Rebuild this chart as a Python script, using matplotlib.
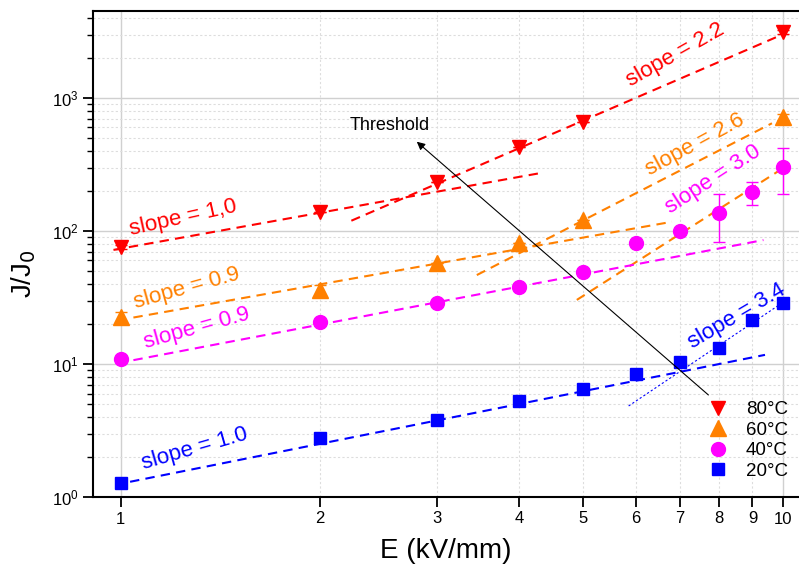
import numpy as np
import matplotlib
matplotlib.use("Agg")
import matplotlib.pyplot as plt
from matplotlib.ticker import FixedLocator, NullFormatter, LogLocator

plt.rcParams['font.family'] = ['Liberation Sans', 'DejaVu Sans']

# measured points
E_hot = [1, 2, 3, 4, 5, 10]
j80 = [76, 140, 235, 430, 664, 3150]
err80 = [3, 0, 0, 0, 0, 120]
j60 = [22.4, 36, 57, 81, 121, 724]
err60 = [2, 3, 0, 0, 0, 40]

E_all = [1, 2, 3, 4, 5, 6, 7, 8, 9, 10]
j40 = [10.9, 20.6, 28.6, 37.7, 49.4, 80.8, 100.6, 136, 195, 304]
err40 = [0, 0, 0, 0, 0, 0, 0, 54, 37, 115]
j20 = [1.28, 2.76, 3.79, 5.30, 6.52, 8.41, 10.4, 13.3, 21.4, 28.6]
err20 = [0.1, 0, 0, 0, 0, 0, 0, 1.2, 0, 0]

series_names = ['80°C', '60°C', '40°C', '20°C']
colors = {'80': '#ff0000', '60': '#ff8000', '40': '#ff00ff', '20': '#0000ff'}

# power-law fits J = amp * E^exp drawn between start and end
fit_color = ['80', '80', '60', '60', '60', '40', '20', '20']
fit_start = [0.975, 2.23, 1.045, 3.45, 4.885, 1.045, 1.033, 5.85]
fit_end = [4.33, 9.96, 6.8, 9.63, 9.96, 9.35, 9.40, 10.0]
fit_amp = [73.7, 21.3, 21.5, 1.958, 0.1955, 10.25, 1.26, 0.01325]
fit_exp = [0.896, 2.15, 0.885, 2.56, 3.18, 0.949, 0.995, 3.34]
fit_thin = [False, False, False, False, False, False, False, True]

# slope annotations
slope_text = ['slope = 1,0', 'slope = 2.2', 'slope = 0.9', 'slope = 2.6',
              'slope = 0.9', 'slope = 3.0', 'slope = 1.0', 'slope = 3.4']
slope_color = ['80', '80', '60', '60', '40', '40', '20', '20']
slope_x = [1.243, 6.88, 1.258, 7.37, 1.303, 7.86, 1.295, 8.53]
slope_y = [124.5, 2105, 37.1, 443, 18.6, 242, 2.32, 22.9]
slope_angle = [12.5, 29.5, 15.5, 28.5, 15.5, 33, 16, 30.5]

fig = plt.figure(figsize=(7.99, 5.71), dpi=100)
ax = fig.add_axes([93 / 799, 1 - 497 / 571, 1 - 93 / 799, (497 - 11) / 571])
ax.set_xscale('log')
ax.set_yscale('log')
ax.set_xlim(0.908, 10.58)
ax.set_ylim(1, 10 ** 3.654)

# grid
ax.xaxis.set_major_locator(FixedLocator([1, 10]))
ax.xaxis.set_minor_locator(FixedLocator([2, 3, 4, 5, 6, 7, 8, 9]))
ax.yaxis.set_major_locator(LogLocator(base=10))
ax.yaxis.set_minor_locator(LogLocator(base=10, subs=np.arange(2, 10)))
ax.grid(which='major', color='#d0d0d0', linestyle='-', linewidth=1.0)
ax.grid(which='minor', color='#dddddd', linestyle=(0, (2, 2)), linewidth=0.8)
ax.set_axisbelow(True)

# x tick labels on all integer positions
ax.set_xticks([1, 10])
ax.set_xticklabels(['1', '10'])
ax.set_xticks([2, 3, 4, 5, 6, 7, 8, 9], minor=True)
ax.set_xticklabels(['2', '3', '4', '5', '6', '7', '8', '9'], minor=True)
ax.yaxis.set_minor_formatter(NullFormatter())

ax.tick_params(which='major', direction='out', length=7, width=1.3, labelsize=12)
ax.tick_params(axis='x', which='minor', direction='out', length=7, width=1.3, labelsize=12)
ax.tick_params(axis='y', which='minor', direction='out', length=4, width=1.0)
for s in ['left', 'bottom', 'top']:
    ax.spines[s].set_linewidth(1.5)
ax.spines['right'].set_visible(False)

# fit lines
for c, x0, x1, a, m, thin in zip(fit_color, fit_start, fit_end, fit_amp, fit_exp, fit_thin):
    xs = np.array([x0, x1])
    if thin:
        ax.plot(xs, a * xs ** m, color=colors[c], lw=0.8, ls=(0, (2, 2)))
    else:
        ax.plot(xs, a * xs ** m, color=colors[c], lw=1.5, ls=(0, (4.5, 3)))

# data
kw = dict(ls='none', capsize=4, elinewidth=1, capthick=1)
h80 = ax.errorbar(E_hot, j80, yerr=err80, fmt='v', ms=10, color=colors['80'], **kw)
h60 = ax.errorbar(E_hot, j60, yerr=err60, fmt='^', ms=11.5, color=colors['60'], **kw)
h40 = ax.errorbar(E_all, j40, yerr=err40, fmt='o', ms=10, color=colors['40'], **kw)
h20 = ax.errorbar(E_all, j20, yerr=err20, fmt='s', ms=8.5, color=colors['20'], **kw)

for t, c, x, y, r in zip(slope_text, slope_color, slope_x, slope_y, slope_angle):
    ax.text(x, y, t, color=colors[c], fontsize=16, rotation=r,
            rotation_mode='anchor', ha='center', va='center')

ax.annotate('', xy=(2.80, 469), xytext=(7.72, 5.85),
            arrowprops=dict(arrowstyle='-|>', color='black', lw=0.8,
                            mutation_scale=12, shrinkA=0, shrinkB=0))
ax.text(2.55, 620, 'Threshold', fontsize=13, ha='center', va='center')

ax.legend([h80[0], h60[0], h40[0], h20[0]], series_names, loc='lower right',
          frameon=False, fontsize=13.5, handletextpad=0.5, labelspacing=0.18,
          borderaxespad=0.3, bbox_to_anchor=(1.003, 0.008))

ax.set_xlabel('E (kV/mm)', fontsize=20, labelpad=8)
fig.text(24 / 799, 1 - 274 / 571, 'J/J$_0$', fontsize=20, rotation=90,
         ha='center', va='center')

fig.savefig('out.png', dpi=100)
